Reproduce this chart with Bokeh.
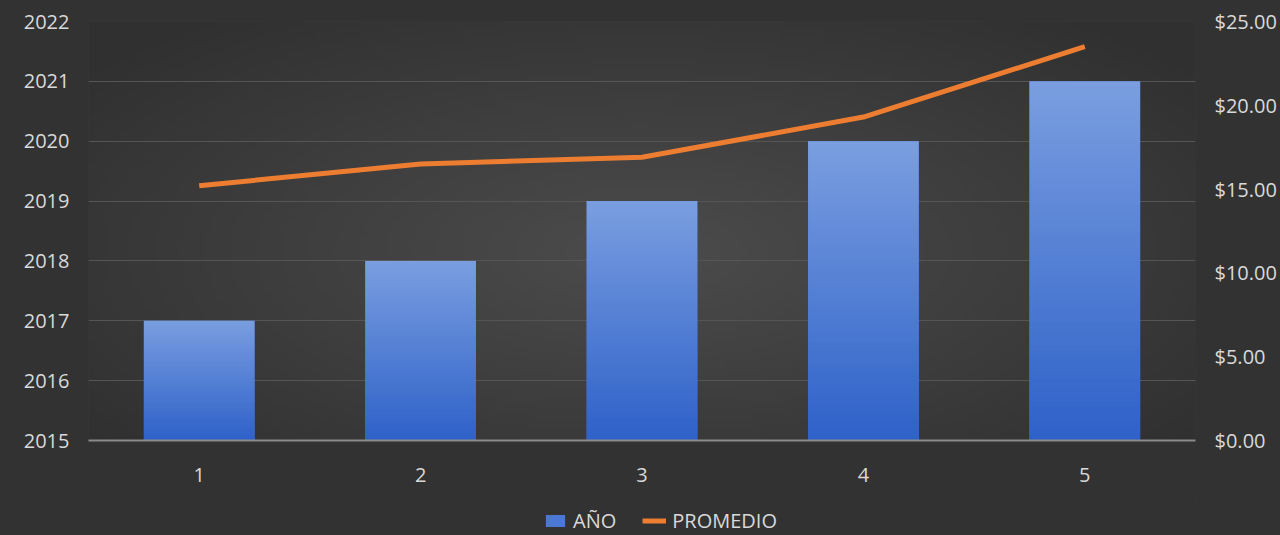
import numpy as np
from bokeh.plotting import figure
from bokeh.layouts import column
from bokeh.models import Range1d, LinearAxis, NumeralTickFormatter, FixedTicker, Legend, LegendItem
from bokeh.embed import file_html
from bokeh.resources import INLINE

# ---- data ----
categories = [1, 2, 3, 4, 5]
anio = [2017, 2018, 2019, 2020, 2021]
promedio = [15.2, 16.5, 16.9, 19.3, 23.5]
year_ticks = [2015, 2016, 2017, 2018, 2019, 2020, 2021, 2022]
price_ticks = [0, 5, 10, 15, 20, 25]
series_names = ["AÑO", "PROMEDIO"]
base_year = 2015

FONT = "Open Sans"
TXT = "#d9d9d9"
FS = "20px"
BAR_COLOR = "#4a78d4"
LINE_COLOR = "#ed7d31"
BORDER = "#323232"

p = figure(width=1280, height=500, x_range=Range1d(0.5, 5.5), y_range=Range1d(2015, 2022),
           output_backend="svg", toolbar_location=None,
           min_border_left=88, min_border_right=85, min_border_top=21, min_border_bottom=60)
p.background_fill_color = "#3a3a3a"
p.border_fill_color = None
p.styles = {"background-color": BORDER}
p.outline_line_color = None

# radial background gradient for the frame
H, W = 80, 200
yy, xx = np.mgrid[0:H, 0:W]
fx = (xx + 0.5) / W
fy = 1 - (yy + 0.5) / H  # from top
d = np.sqrt(((fx - 0.5) / 0.5) ** 2 + ((fy - 0.55) / 0.55) ** 2)
c_center = np.array([0x4c, 0x4c, 0x4c], dtype=float)
c_edge = np.array([0x30, 0x30, 0x30], dtype=float)
t = np.clip(d / 1.3, 0, 1)[..., None]
col = c_center * (1 - t) + c_edge * t
img = np.empty((H, W), dtype=np.uint32)
view = img.view(dtype=np.uint8).reshape((H, W, 4))
view[..., 0] = col[..., 0].astype(np.uint8)
view[..., 1] = col[..., 1].astype(np.uint8)
view[..., 2] = col[..., 2].astype(np.uint8)
view[..., 3] = 255
p.image_rgba(image=[img], x=0.5, y=2015, dw=5, dh=7, level="image")

# secondary range
p.extra_y_ranges = {"price": Range1d(0, 25)}

# bars
bars = p.vbar(x=categories, top=anio, bottom=base_year, width=0.5,
              fill_color=BAR_COLOR, line_color=None)

# vertical gradient overlay on each bar
gh = 64
g = np.linspace(0, 1, gh)[:, None]  # 0 bottom -> 1 top
top_c = np.array([0x7a, 0x9e, 0xe0], dtype=float)
bot_c = np.array([0x2f, 0x62, 0xc9], dtype=float)
gcol = bot_c * (1 - g) + top_c * g
gimg = np.empty((gh, 1), dtype=np.uint32)
gv = gimg.view(dtype=np.uint8).reshape((gh, 1, 4))
gv[..., 0] = gcol[:, 0:1].astype(np.uint8)
gv[..., 1] = gcol[:, 1:2].astype(np.uint8)
gv[..., 2] = gcol[:, 2:3].astype(np.uint8)
gv[..., 3] = 255
p.image_rgba(image=[gimg] * len(categories), x=[c - 0.25 for c in categories],
             y=[base_year] * len(categories), dw=[0.5] * len(categories),
             dh=[a - base_year for a in anio])

# line
line = p.line(categories, promedio, y_range_name="price", line_color=LINE_COLOR, line_width=5)

# axes styling
xa = p.xaxis[0]
xa.ticker = FixedTicker(ticks=categories)
xa.axis_line_color = "#8a8a8a"
xa.axis_line_width = 2
xa.major_tick_line_color = None
xa.minor_tick_line_color = None
xa.major_label_text_color = TXT
xa.major_label_text_font = FONT
xa.major_label_text_font_size = FS
xa.major_label_standoff = 21

ya = p.yaxis[0]
ya.ticker = FixedTicker(ticks=year_ticks)
ya.axis_line_color = None
ya.major_tick_line_color = None
ya.minor_tick_line_color = None
ya.major_label_text_color = TXT
ya.major_label_text_font = FONT
ya.major_label_text_font_size = FS
ya.major_label_standoff = 13

ra = LinearAxis(y_range_name="price", ticker=FixedTicker(ticks=price_ticks),
                formatter=NumeralTickFormatter(format="$0.00"))
ra.axis_line_color = None
ra.major_tick_line_color = None
ra.minor_tick_line_color = None
ra.major_label_text_color = TXT
ra.major_label_text_font = FONT
ra.major_label_text_font_size = FS
ra.major_label_standoff = 13
p.add_layout(ra, "right")

p.xgrid.grid_line_color = None
p.ygrid.grid_line_color = "#555555"
p.ygrid.grid_line_width = 1
p.ygrid.ticker = FixedTicker(ticks=year_ticks)

# ---- legend strip below the chart ----
lg = figure(width=1280, height=35, output_backend="svg", toolbar_location=None,
            min_border=0, min_border_left=0, min_border_right=0,
            min_border_top=0, min_border_bottom=0,
            x_range=Range1d(-3, -2), y_range=Range1d(-3, -2))
lg.xaxis.visible = False
lg.yaxis.visible = False
lg.grid.visible = False
lg.outline_line_color = None
lg.background_fill_color = None
lg.border_fill_color = None
lg.styles = {"background-color": BORDER}
# legend proxies: same data, outside this strip's ranges, so only the legend shows
lb = lg.vbar(x=categories, top=anio, bottom=base_year, width=0.5, fill_color=BAR_COLOR, line_color=None)
ll = lg.line(categories, promedio, line_color=LINE_COLOR, line_width=5)

legend = Legend(items=[LegendItem(label=series_names[0], renderers=[lb]),
                       LegendItem(label=series_names[1], renderers=[ll])],
                orientation="horizontal", location=(455, 1),
                background_fill_alpha=0, border_line_color=None,
                label_text_color=TXT, label_text_font=FONT, label_text_font_size=FS,
                glyph_width=24, glyph_height=15, spacing=26, padding=2, margin=0,
                label_standoff=6)
lg.add_layout(legend, "center")

layout = column(p, lg, spacing=0)
open("out.html", "w").write(file_html(layout, INLINE))
